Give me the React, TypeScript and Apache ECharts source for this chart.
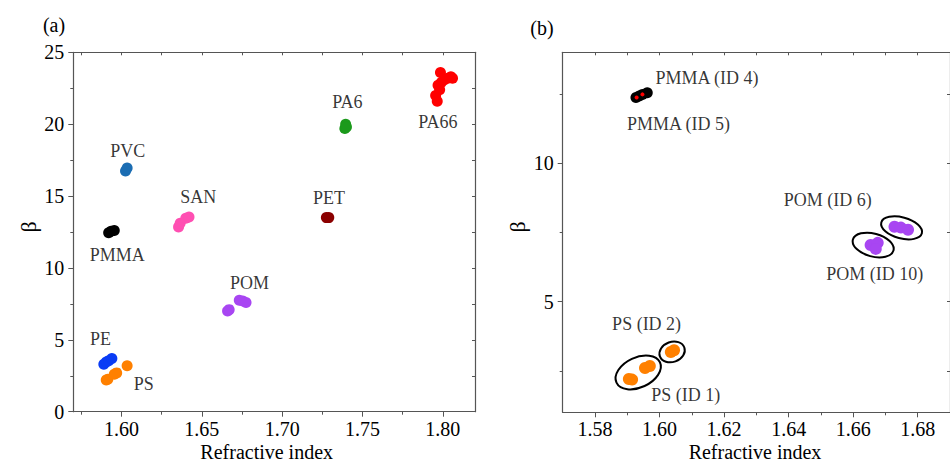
import React, { useEffect, useRef } from "react";
import * as echarts from "echarts";

const FONT = '"Liberation Serif", "Times New Roman", serif';

// ---------- Panel (a) data ----------
const peA = [[1.589, 3.3], [1.5905, 3.45], [1.592, 3.55], [1.594, 3.7]];
const psA = [[1.5905, 2.2], [1.5915, 2.25], [1.5955, 2.6], [1.597, 2.7], [1.6035, 3.2]];
const pmmaA = [[1.592, 12.45], [1.5935, 12.55], [1.5955, 12.6]];
const pvcA = [[1.6025, 16.75], [1.6035, 16.95]];
const sanA = [[1.6355, 12.85], [1.6365, 13.1], [1.640, 13.45], [1.642, 13.55]];
const pomA = [[1.666, 7.0], [1.667, 7.1], [1.6733, 7.75], [1.6755, 7.7], [1.6775, 7.6]];
const petA = [[1.7275, 13.5], [1.729, 13.5]];
const pa6A = [[1.739, 19.7], [1.7395, 20.0], [1.740, 19.8]];
const pa66A = [
  [1.7985, 23.6], [1.801, 23.1], [1.803, 23.2], [1.805, 23.3], [1.806, 23.2],
  [1.799, 22.9], [1.797, 22.7], [1.798, 22.4], [1.7955, 22.0], [1.7965, 21.6],
];

const labelsA = [
  [1.5869, 5.06, "PE"], [1.6139, 1.93, "PS"], [1.5973, 10.9, "PMMA"],
  [1.6039, 18.13, "PVC"], [1.6477, 14.96, "SAN"], [1.6796, 8.97, "POM"],
  [1.7291, 14.84, "PET"], [1.7406, 21.52, "PA6"], [1.7969, 20.17, "PA66"],
];

// ---------- Panel (b) data ----------
const psId1 = [[1.5905, 2.2], [1.5915, 2.18], [1.5955, 2.6], [1.597, 2.67]];
const psId2 = [[1.6035, 3.18], [1.6045, 3.24]];
const pmmaId4 = [[1.5927, 12.37], [1.5937, 12.42], [1.5947, 12.48], [1.5962, 12.54]];
const pmmaId5 = [[1.5929, 12.37], [1.5947, 12.48]];
const pomId6 = [[1.6728, 7.7], [1.6748, 7.67], [1.677, 7.59]];
const pomId10 = [[1.6654, 7.04], [1.6676, 7.12], [1.667, 6.9]];

const labelsB = [
  [1.6147, 13.09, "PMMA (ID 4)"], [1.6059, 11.4, "PMMA (ID 5)"],
  [1.6521, 8.67, "POM (ID 6)"], [1.6667, 5.99, "POM (ID 10)"],
  [1.596, 4.18, "PS (ID 2)"], [1.6081, 1.61, "PS (ID 1)"],
];

// ellipse centers in data units (panel b)
const ellipsesB = [
  { c: [1.5934, 2.44], rx: 24, ry: 15, rot: 25 },
  { c: [1.6039, 3.18], rx: 13, ry: 10, rot: 20 },
  { c: [1.6662, 7.04], rx: 21, ry: 11.5, rot: -15 },
  { c: [1.675, 7.66], rx: 21, ry: 10.5, rot: -15 },
];

// ---------- axis ticks ----------
const xMajorA = [1.6, 1.65, 1.7, 1.75, 1.8];
const xMinorA = [1.575, 1.625, 1.675, 1.725, 1.775];
const yMajorA = [0, 5, 10, 15, 20, 25];
const yMinorA = [2.5, 7.5, 12.5, 17.5, 22.5];
const xMajorB = [1.58, 1.6, 1.62, 1.64, 1.66, 1.68];
const xMinorB = [1.59, 1.61, 1.63, 1.65, 1.67, 1.69];
const yMajorB = [5, 10];
const yMinorB = [2.5, 7.5, 12.5];

const AXIS_COLOR = "#555";
const TEXT_COLOR = "#000";

function axesFor(
  kind: "x" | "y",
  gridIndex: number,
  min: number,
  max: number,
  majors: number[],
  minors: number[],
  fmt: (v: number) => string
) {
  const posMain = kind === "x" ? "bottom" : "left";
  const posMirror = kind === "x" ? "top" : "right";
  const base = { type: "value", gridIndex, min, max, splitLine: { show: false } };
  return [
    {
      ...base,
      position: posMain,
      axisLine: { show: true, onZero: false, lineStyle: { color: AXIS_COLOR, width: 1.2 } },
      axisTick: { show: true, inside: false, length: 5, customValues: majors, lineStyle: { color: AXIS_COLOR } },
      axisLabel: {
        show: true,
        customValues: majors,
        formatter: (v: number) => fmt(v),
        color: TEXT_COLOR,
        fontSize: 20,
        fontFamily: FONT,
        margin: kind === "x" ? 7 : 9,
      },
    },
    {
      ...base,
      position: posMain,
      axisLine: { show: false, onZero: false },
      axisTick: { show: true, inside: false, length: 3, customValues: minors, lineStyle: { color: AXIS_COLOR } },
      axisLabel: { show: false },
    },
    {
      ...base,
      position: posMirror,
      axisLine: { show: true, onZero: false, lineStyle: { color: AXIS_COLOR, width: 1.2 } },
      axisTick: {
        show: true,
        inside: true,
        length: 3,
        customValues: [...majors, ...minors],
        lineStyle: { color: AXIS_COLOR },
      },
      axisLabel: { show: false },
    },
  ];
}

function scatter(name: string, data: number[][], color: string, size: number, xi: number, yi: number, z = 2) {
  return {
    type: "scatter",
    name,
    data,
    xAxisIndex: xi,
    yAxisIndex: yi,
    symbolSize: size,
    itemStyle: { color, opacity: 1 },
    z,
    silent: true,
  };
}

function labelSeries(data: (number | string)[][], xi: number, yi: number) {
  return {
    type: "scatter",
    data,
    xAxisIndex: xi,
    yAxisIndex: yi,
    symbolSize: 0,
    silent: true,
    z: 10,
    label: {
      show: true,
      position: "inside",
      formatter: (p: any) => p.data[2],
      color: TEXT_COLOR,
      fontSize: 18,
      fontFamily: FONT,
    },
  };
}

export default function App() {
  const ref = useRef<HTMLDivElement>(null);

  useEffect(() => {
    if (!ref.current) return;
    const chart = echarts.init(ref.current, undefined, { renderer: "svg" });

    const fmt2 = (v: number) => v.toFixed(2);
    const fmt0 = (v: number) => String(Math.round(v));

    const series: any[] = [
      scatter("PE", peA, "#0a3cf5", 11, 0, 0),
      scatter("PS", psA, "#ff8000", 11, 0, 0),
      scatter("PMMA", pmmaA, "#000000", 11, 0, 0),
      scatter("PVC", pvcA, "#1b6db3", 11, 0, 0),
      scatter("SAN", sanA, "#ff4fb2", 11, 0, 0),
      scatter("POM", pomA, "#a846f2", 11, 0, 0),
      scatter("PET", petA, "#8b0000", 11, 0, 0),
      scatter("PA6", pa6A, "#1c9a1c", 11, 0, 0),
      scatter("PA66", pa66A, "#ff0000", 11, 0, 0),
      labelSeries(labelsA, 0, 0),
      scatter("PS (ID 1)", psId1, "#ff8000", 12, 3, 3),
      scatter("PS (ID 2)", psId2, "#ff8000", 12, 3, 3),
      scatter("PMMA (ID 4)", pmmaId4, "#000000", 11, 3, 3),
      scatter("PMMA (ID 5)", pmmaId5, "#ff0000", 4, 3, 3, 5),
      scatter("POM (ID 6)", pomId6, "#a846f2", 12, 3, 3),
      scatter("POM (ID 10)", pomId10, "#a846f2", 12, 3, 3),
      labelSeries(labelsB, 3, 3),
    ];
    const rightSeriesIndex = 10;

    chart.setOption({
      animation: false,
      backgroundColor: "#fff",
      grid: [
        { left: 73.3, top: 52.3, width: 401.7, height: 359.4, containLabel: false },
        { left: 562.7, top: 52.3, width: 401, height: 360, containLabel: false },
      ],
      xAxis: [
        ...axesFor("x", 0, 1.57, 1.82, xMajorA, xMinorA, fmt2),
        ...axesFor("x", 1, 1.57, 1.69, xMajorB, xMinorB, fmt2),
      ],
      yAxis: [
        ...axesFor("y", 0, 0, 25, yMajorA, yMinorA, fmt0),
        ...axesFor("y", 1, 1, 14, yMajorB, yMinorB, fmt0),
      ],
      series,
    });

    const textStyle = (text: string, size: number) => ({
      text,
      fill: TEXT_COLOR,
      font: `${size}px ${FONT}`,
      align: "center",
      verticalAlign: "middle",
    });

    const graphics: any[] = [
      { type: "text", x: 54, y: 25, style: textStyle("(a)", 20) },
      { type: "text", x: 542, y: 28, style: textStyle("(b)", 20) },
      { type: "text", x: 266.7, y: 452, style: textStyle("Refractive index", 20) },
      { type: "text", x: 755, y: 452, style: textStyle("Refractive index", 20) },
      { type: "text", x: 28, y: 227, rotation: Math.PI / 2, style: textStyle("β", 22) },
      { type: "text", x: 517, y: 227, rotation: Math.PI / 2, style: textStyle("β", 22) },
    ];

    ellipsesB.forEach((e) => {
      const p = chart.convertToPixel({ seriesIndex: rightSeriesIndex }, e.c) as number[];
      if (!p) return;
      graphics.push({
        type: "ellipse",
        x: p[0],
        y: p[1],
        rotation: (e.rot * Math.PI) / 180,
        shape: { cx: 0, cy: 0, rx: e.rx, ry: e.ry },
        style: { fill: "none", stroke: "#000", lineWidth: 2 },
        z: 20,
        silent: true,
      });
    });

    chart.setOption({ graphic: graphics });

    return () => chart.dispose();
  }, []);

  return (
    <div
      ref={ref}
      style={{ position: "fixed", left: 0, top: 0, width: 950, height: 464, background: "#fff" }}
    />
  );
}
